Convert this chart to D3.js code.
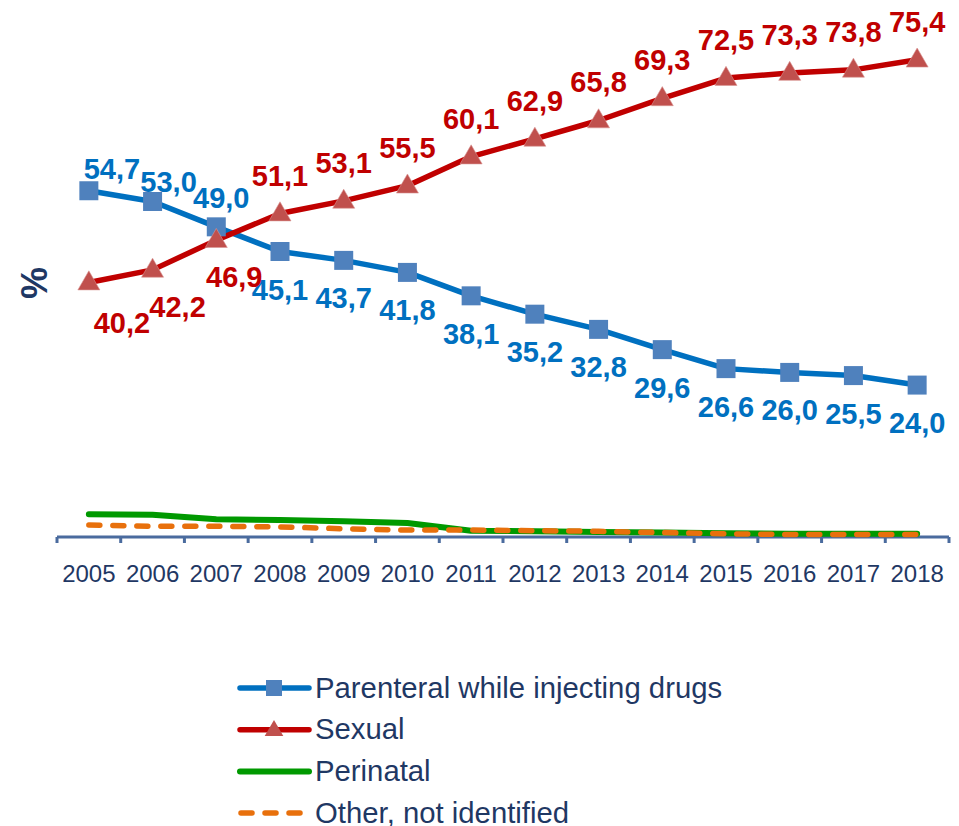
<!DOCTYPE html>
<html>
<head>
<meta charset="utf-8">
<script src="https://cdn.jsdelivr.net/npm/d3@7"></script>
<style>
  html, body { margin: 0; padding: 0; background: #fff; }
  svg { display: block; font-family: "Liberation Sans", Arial, sans-serif; }
</style>
</head>
<body>
<svg id="chart" width="959" height="826"></svg>
<script>
// ---------- data ----------
const years = ["2005","2006","2007","2008","2009","2010","2011","2012","2013","2014","2015","2016","2017","2018"];
const parenteral = [54.7, 53.0, 49.0, 45.1, 43.7, 41.8, 38.1, 35.2, 32.8, 29.6, 26.6, 26.0, 25.5, 24.0];
const sexual     = [40.2, 42.2, 46.9, 51.1, 53.1, 55.5, 60.1, 62.9, 65.8, 69.3, 72.5, 73.3, 73.8, 75.4];
const perinatal  = [3.6, 3.5, 2.8, 2.7, 2.5, 2.2, 1.0, 0.9, 0.8, 0.7, 0.6, 0.5, 0.5, 0.5];
const other      = [1.9, 1.7, 1.7, 1.6, 1.3, 1.1, 1.1, 1.0, 0.9, 0.7, 0.5, 0.4, 0.4, 0.4];
const seriesNames = ["Parenteral while injecting drugs", "Sexual", "Perinatal", "Other, not identified"];

// ---------- layout ----------
const svg = d3.select("#chart");
const x = d3.scaleBand().domain(years).range([57, 949]).paddingInner(0).paddingOuter(0);
const y = d3.scaleLinear().domain([0, 80]).range([537, 30.6]);
const cx = d => x(d) + x.bandwidth() / 2;

const navy = "#1F3864";
const fmt = v => d3.format(".1f")(v).replace(".", ",");

// label offsets (layout only): [dx, baseline dy]
const blueOff = years.map((d, i) => i === 0 ? [23, -12] : i === 1 ? [16, -10] : i === 2 ? [5, -19] : [0, 48]);
const redOff  = years.map((d, i) => i === 0 ? [33, 50] : i === 1 ? [25, 47] : i === 2 ? [18, 47] : [0, -28]);

// ---------- axis ----------
const axisColor = "#4A6B9E";
svg.append("line")
  .attr("x1", 57).attr("x2", 949).attr("y1", y(0)).attr("y2", y(0))
  .attr("stroke", axisColor).attr("stroke-width", 3);
const edges = years.map(d => x(d)).concat([x(years[years.length - 1]) + x.bandwidth()]);
svg.append("g").selectAll("line").data(edges).join("line")
  .attr("x1", d => d).attr("x2", d => d)
  .attr("y1", y(0)).attr("y2", y(0) + 6)
  .attr("stroke", axisColor).attr("stroke-width", 3);
svg.append("g").selectAll("text").data(years).join("text")
  .attr("x", d => cx(d)).attr("y", 582)
  .attr("text-anchor", "middle")
  .attr("font-size", 24).attr("fill", navy)
  .text(d => d);

// y title
svg.append("text")
  .attr("transform", "translate(47,283) rotate(-90)")
  .attr("text-anchor", "middle")
  .attr("font-size", 36).attr("font-weight", "bold").attr("fill", navy)
  .text("%");

// ---------- lines ----------
const line = d3.line().x((d, i) => cx(years[i])).y(d => y(d)).curve(d3.curveLinear);

svg.append("path").datum(perinatal).attr("d", line)
  .attr("fill", "none").attr("stroke", "#009900").attr("stroke-width", 6)
  .attr("stroke-linecap", "round").attr("stroke-linejoin", "round");
svg.append("path").datum(other).attr("d", line)
  .attr("fill", "none").attr("stroke", "#E8700C").attr("stroke-width", 5.5)
  .attr("stroke-dasharray", "11,13").attr("stroke-linecap", "round").attr("stroke-linejoin", "round");

svg.append("path").datum(parenteral).attr("d", line)
  .attr("fill", "none").attr("stroke", "#0070C0").attr("stroke-width", 5.5).attr("stroke-linejoin", "round");
svg.append("path").datum(sexual).attr("d", line)
  .attr("fill", "none").attr("stroke", "#C00000").attr("stroke-width", 5.5).attr("stroke-linejoin", "round");

// markers
const sq = d3.symbol().type(d3.symbolSquare).size(19 * 19);
const tri = d3.symbol().type(d3.symbolTriangle).size(210);
svg.append("g").selectAll("path").data(parenteral).join("path")
  .attr("d", sq).attr("transform", (d, i) => `translate(${cx(years[i])},${y(d)})`)
  .attr("fill", "#4F81BD");
svg.append("g").selectAll("path").data(sexual).join("path")
  .attr("d", tri).attr("transform", (d, i) => `translate(${cx(years[i])},${y(d) + 1})`)
  .attr("fill", "#C0504D").attr("stroke", "#D99694").attr("stroke-width", 0.6);

// data labels
svg.append("g").selectAll("text").data(parenteral).join("text")
  .attr("x", (d, i) => cx(years[i]) + blueOff[i][0])
  .attr("y", (d, i) => y(d) + blueOff[i][1])
  .attr("text-anchor", "middle").attr("font-size", 29).attr("font-weight", "bold")
  .attr("fill", "#0070C0").text(d => fmt(d));
svg.append("g").selectAll("text").data(sexual).join("text")
  .attr("x", (d, i) => cx(years[i]) + redOff[i][0])
  .attr("y", (d, i) => y(d) + redOff[i][1])
  .attr("text-anchor", "middle").attr("font-size", 29).attr("font-weight", "bold")
  .attr("fill", "#C00000").text(d => fmt(d));

// ---------- legend ----------
const legendRows = [
  { name: seriesNames[0], color: "#0070C0", marker: "square", dash: null, width: 5.5 },
  { name: seriesNames[1], color: "#C00000", marker: "triangle", dash: null, width: 5.5 },
  { name: seriesNames[2], color: "#009900", marker: null, dash: null, width: 6 },
  { name: seriesNames[3], color: "#E8700C", marker: null, dash: "11,13", width: 5.5 }
];
const lg = svg.append("g").selectAll("g").data(legendRows).join("g")
  .attr("transform", (d, i) => `translate(0,${688 + i * 41.7})`);
lg.append("line")
  .attr("x1", d => d.dash ? 241 : 240).attr("x2", 309).attr("y1", 0).attr("y2", 0)
  .attr("stroke", d => d.color).attr("stroke-width", d => d.width)
  .attr("stroke-linecap", "round")
  .attr("stroke-dasharray", d => d.dash);
lg.filter(d => d.marker === "square").append("path")
  .attr("d", d3.symbol().type(d3.symbolSquare).size(16 * 16))
  .attr("transform", "translate(274,0)").attr("fill", "#4F81BD");
lg.filter(d => d.marker === "triangle").append("path")
  .attr("d", d3.symbol().type(d3.symbolTriangle).size(150))
  .attr("transform", "translate(274,1)").attr("fill", "#C0504D");
lg.append("text")
  .attr("x", 315).attr("y", 9.5)
  .attr("font-size", 29.3).attr("fill", navy)
  .text(d => d.name);
</script>
</body>
</html>
